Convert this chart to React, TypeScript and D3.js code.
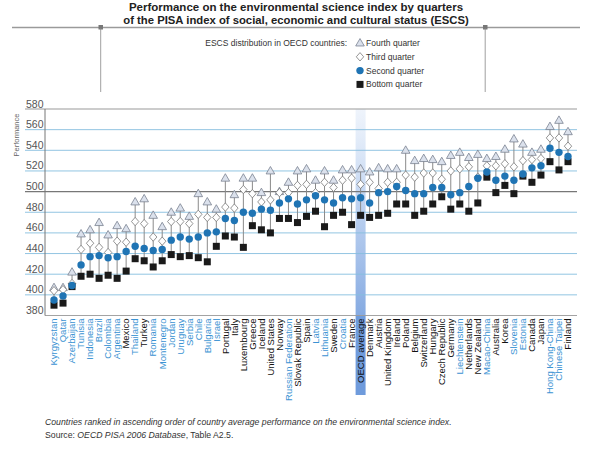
import * as d3 from "d3";

const countries = [
  "Kyrgyzstan", "Qatar", "Azerbaijan", "Tunisia", "Indonesia", "Brazil", "Colombia", "Argentina",
  "Mexico", "Thailand", "Turkey", "Romania", "Montenegro", "Jordan", "Uruguay", "Serbia", "Chile",
  "Bulgaria", "Israel", "Portugal", "Italy", "Luxembourg", "Greece", "Iceland", "United States",
  "Norway", "Russian Federation", "Slovak Republic", "Spain", "Latvia", "Lithuania", "Sweden",
  "Croatia", "France", "OECD average", "Denmark", "Austria", "United Kingdom", "Ireland", "Poland",
  "Belgium", "Switzerland", "Hungary", "Czech Republic", "Germany", "Liechtenstein", "Netherlands",
  "New Zealand", "Macao-China", "Australia", "Korea", "Slovenia", "Estonia", "Canada", "Japan",
  "Hong Kong-China", "Chinese Taipei", "Finland",
];

const partners = [
  "Kyrgyzstan", "Qatar", "Azerbaijan", "Tunisia", "Indonesia", "Brazil", "Colombia", "Argentina",
  "Thailand", "Romania", "Montenegro", "Jordan", "Uruguay", "Serbia", "Chile", "Bulgaria", "Israel",
  "Russian Federation", "Latvia", "Lithuania", "Croatia", "Liechtenstein", "Macao-China", "Slovenia",
  "Estonia", "Hong Kong-China", "Chinese Taipei",
];

// fourth (top) quarter
const fourth = [
  407, 407, 422, 459, 463, 470, 458, 467, 464, 490,
  493, 477, 466, 480, 484, 476, 498, 490, 483, 513,
  497, 513, 513, 499, 520, 500, 509, 520, 522, 511,
  520, 511, 521, 521, 522, 519, 523, 522, 522, 540,
  530, 532, 531, 529, 535, 538, 533, 536, 532, 534,
  541, 551, 546, 538, 541, 563, 569, 558,
];
const third = [
  404, 405, 411, 444, 450, 446, 441, 452, 451, 471,
  469, 456, 452, 471, 471, 469, 478, 475, 475, 485,
  484, 502, 498, 490, 492, 499, 499, 506, 507, 499,
  509, 504, 511, 513, 507, 509, 503, 509, 509, 516,
  514, 518, 518, 512, 520, 522, 524, 514, 525, 525,
  527, 524, 530, 531, 532, 552, 552, 544,
];
const second = [
  395, 399, 409, 429, 437, 438, 436, 437, 442, 447,
  445, 443, 444, 453, 456, 454, 456, 460, 461, 474,
  472, 480, 479, 483, 482, 489, 493, 488, 492, 496,
  492, 489, 494, 493, 494, 489, 499, 500, 505, 501,
  498, 498, 504, 504, 497, 499, 505, 513, 519, 511,
  515, 511, 517, 523, 525, 542, 538, 534,
];
const bottom = [
  390, 392, 408, 418, 420, 416, 419, 416, 423, 435,
  433, 427, 433, 439, 437, 438, 436, 432, 447, 457,
  456, 446, 467, 463, 460, 474, 474, 470, 476, 481,
  466, 477, 480, 468, 477, 475, 477, 479, 488, 488,
  477, 481, 488, 495, 483, 488, 481, 489, 514, 499,
  506, 498, 515, 509, 516, 529, 521, 529,
];

const yTicks = [380, 400, 420, 440, 460, 480, 500, 520, 540, 560, 580];

const legendItems = ["Fourth quarter", "Third quarter", "Second quarter", "Bottom quarter"];

const W = 594;
const H = 453;
const plotTop = 109;
const plotBottom = 315.5;
const plotLeft = 45;
const plotRight = 577;
const FONT = "'Liberation Sans', Arial, sans-serif";
const BLUE = "#1f74b4";
const LABEL_BLUE = "#3b93d3";
const GRID = "#86bedf";

const triPath = d3.symbol(d3.symbolTriangle, 32)() as string;
const diaPath = "M0,-4.2L3.7,0L0,4.2L-3.7,0Z";

export default function App() {
  const x = d3.scalePoint<string>().domain(countries).range([54, 568]);
  const y = d3.scaleLinear().domain([380, 580]).range([plotBottom, plotTop]);

  const oecdX = x("OECD average")!;

  const rows = countries.map((c, i) => ({
    c,
    q4: fourth[i],
    q3: third[i],
    q2: second[i],
    q1: bottom[i],
  }));

  const axisY = y(380);

  return (
    <svg
      width={W}
      height={H}
      style={{ position: "absolute", left: 0, top: 0, background: "#fff" }}
      fontFamily={FONT}
    >
      <defs>
        <linearGradient id="oecdBand" x1="0" y1="0" x2="0" y2="1">
          <stop offset="0" stopColor="#c9daf3" stopOpacity="0.3" />
          <stop offset="0.45" stopColor="#a9c4ec" stopOpacity="0.75" />
          <stop offset="1" stopColor="#7fa6e0" stopOpacity="0.95" />
        </linearGradient>
      </defs>

      {/* title */}
      <text x={296} y={11} textAnchor="middle" fontSize={11.5} fontWeight="bold" fill="#222">
        Performance on the environmental science index by quarters
      </text>
      <text x={296} y={24} textAnchor="middle" fontSize={11.3} fontWeight="bold" fill="#222">
        of the PISA index of social, economic and cultural status (ESCS)
      </text>
      <line x1={12} x2={580} y1={27.5} y2={27.5} stroke="#9a9a9a" strokeWidth={1.5} />
      <rect x={98.5} y={25} width={4.5} height={4.5} fill="#777" />
      <rect x={483} y={25} width={4.5} height={4.5} fill="#777" />
      <line x1={100.7} x2={100.7} y1={28} y2={92} stroke="#888" strokeWidth={0.8} />
      <line x1={485.2} x2={485.2} y1={28} y2={92} stroke="#888" strokeWidth={0.8} />

      {/* legend */}
      <text x={347} y={46} textAnchor="end" fontSize={8.5} fill="#333">
        ESCS distribution in OECD countries:
      </text>
      {legendItems.map((t, i) => {
        const ly = 43 + i * 13.8;
        return (
          <g key={t}>
            {i === 0 && (
              <path d={triPath} transform={`translate(360,${ly + 0.5})`} fill="#dbe1ec" stroke="#7a8190" strokeWidth={0.8} />
            )}
            {i === 1 && (
              <path d={diaPath} transform={`translate(360,${ly})`} fill="#fff" stroke="#7a7a7a" strokeWidth={0.8} />
            )}
            {i === 2 && <circle cx={360} cy={ly} r={3.7} fill={BLUE} />}
            {i === 3 && <rect x={356.5} y={ly - 3.5} width={7} height={7} fill="#1a1a1a" />}
            <text x={366} y={ly + 3} fontSize={8.5} fill="#333">
              {t}
            </text>
          </g>
        );
      })}

      {/* OECD average band */}
      <rect x={oecdX - 5} y={plotTop} width={10} height={axisY - plotTop} fill="url(#oecdBand)" />
      <rect x={oecdX - 5} y={axisY} width={10} height={395 - axisY} fill="#6f9bdc" />

      {/* grid */}
      {yTicks.map((t) => (
        <g key={t}>
          <line
            x1={t === 380 ? plotLeft : 25}
            x2={plotRight}
            y1={y(t)}
            y2={y(t)}
            stroke={t === 500 ? "#777" : t === 580 || t === 380 ? "#999" : GRID}
            strokeWidth={t === 500 || t === 580 ? 1.2 : 0.9}
          />
          <text x={26} y={y(t) - 1.5} fontSize={10.5} fill="#555">
            {t}
          </text>
        </g>
      ))}
      <line x1={plotLeft} x2={plotLeft} y1={plotTop} y2={axisY} stroke="#777" strokeWidth={1} />
      <text transform={`translate(19,135) rotate(-90)`} textAnchor="middle" fontSize={7.5} fill="#666">
        Performance
      </text>

      {/* stems */}
      {rows.map((r) => {
        const vals = [r.q4, r.q3, r.q2, r.q1];
        return (
          <line
            key={r.c}
            x1={x(r.c)}
            x2={x(r.c)}
            y1={y(d3.max(vals)!)}
            y2={y(d3.min(vals)!)}
            stroke="#8a8a8a"
            strokeWidth={1}
          />
        );
      })}
      {rows.map((r) => (
        <path
          key={r.c}
          d={triPath}
          transform={`translate(${x(r.c)},${y(r.q4) + 0.5})`}
          fill="#dbe1ec"
          stroke="#7a8190"
          strokeWidth={0.8}
        />
      ))}
      {rows.map((r) => (
        <path
          key={r.c}
          d={diaPath}
          transform={`translate(${x(r.c)},${y(r.q3)})`}
          fill="#fff"
          stroke="#7a7a7a"
          strokeWidth={0.8}
        />
      ))}
      {rows.map((r) => (
        <rect key={r.c} x={x(r.c)! - 3.5} y={y(r.q1) - 3.5} width={7} height={7} fill="#1a1a1a" />
      ))}
      {rows.map((r) => (
        <circle key={r.c} cx={x(r.c)} cy={y(r.q2)} r={3.7} fill={BLUE} />
      ))}

      {/* country labels */}
      {countries.map((c) => (
        <text
          key={c}
          transform={`translate(${x(c)! + 3.3},${axisY + 3}) rotate(-90)`}
          textAnchor="end"
          fontSize={9.5}
          fill={partners.includes(c) ? LABEL_BLUE : "#111"}
        >
          {c}
        </text>
      ))}

      {/* notes */}
      <text x={45} y={425} fontSize={8.7} fontStyle="italic" fill="#333">
        Countries ranked in ascending order of country average performance on the environmental science index.
      </text>
      <text x={45} y={438} fontSize={8.7} fill="#333">
        Source: <tspan fontStyle="italic">OECD PISA 2006 Database</tspan>, Table A2.5.
      </text>
    </svg>
  );
}
